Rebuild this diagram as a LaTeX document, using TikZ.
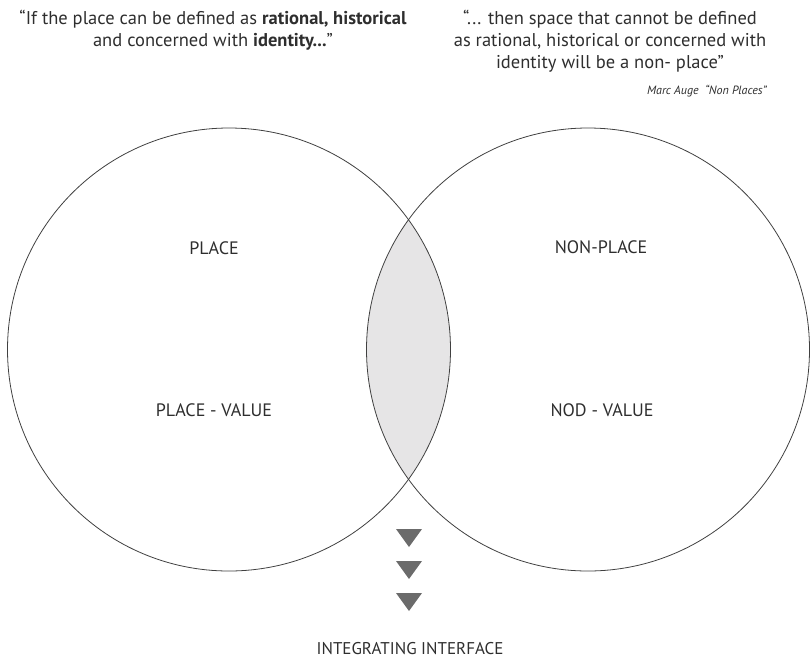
\documentclass[tikz,border=0pt]{standalone}
\usepackage{fontspec}
\setmainfont{PT Sans}
\usetikzlibrary{positioning}
\definecolor{ink}{HTML}{2E2E2E}
\definecolor{lens}{HTML}{E6E5E6}

\begin{document}
\begin{tikzpicture}[x=1pt, y=-1pt, circ/.style={circle, draw=black!75, line width=0.8pt, minimum size=443pt, inner sep=0pt}, lbl/.style={text=ink, font=\fontsize{18}{21}\selectfont}, quote/.style={lbl, align=center, font=\fontsize{18.5}{22}\selectfont}, tri/.style={fill=black!58}]
	\useasboundingbox (0,0) rectangle (810,662);
	% lens between the two circles
	\begin{scope}
		\clip (229,349.5) circle (221.5);
		\fill[lens] (588,349.5) circle (221.5);
	\end{scope}
	\node[circ] (place) at (229,349.5) {};
	\node[circ] (nonplace) at (588,349.5) {};
	\node[lbl] (pl) at (214,248) {PLACE};
	\node[lbl] (plval) at (214,410) {PLACE - VALUE};
	\node[lbl] (npl) at (601,247) {NON-PLACE};
	\node[lbl] (nodval) at (602,410) {NOD - VALUE};
	\node[quote] (q1) at (213,30) {``If the place can be defined as \textbf{rational, historical}\\ and concerned with \textbf{identity...}''};
	\node[quote] (q2) at (610,41) {``... then space that cannot be defined\\ as rational, historical or concerned with\\ identity will be a non- place''};
	\node[lbl, font=\itshape\fontsize{12}{14}\selectfont, anchor=east] (auge) at (770,91) {Marc Auge\ \ ``Non Places''};
	% arrows down
	\foreach \y in {529,561,593}
		\fill[tri] (396,\y) -- (422,\y) -- (409,\y+18) -- cycle;
	\node[lbl, font=\fontsize{17}{20}\selectfont, inner sep=1pt] (iface) at (410,649) {INTEGRATING INTERFACE};
\end{tikzpicture}
\end{document}
